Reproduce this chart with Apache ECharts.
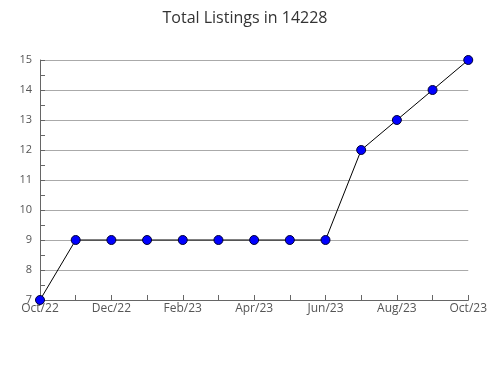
<!DOCTYPE html>
<html><head><meta charset="utf-8">
<script src="https://cdn.jsdelivr.net/npm/echarts@6/dist/echarts.min.js"></script>
<style>html,body{margin:0;padding:0;background:#fff}#c{width:490px;height:380px}</style>
</head><body><div id="c"></div>
<script>
const categories = ['Oct/22','Nov/22','Dec/22','Jan/23','Feb/23','Mar/23','Apr/23','May/23','Jun/23','Jul/23','Aug/23','Sep/23','Oct/23'];
const listings = [7, 9, 9, 9, 9, 9, 9, 9, 9, 12, 13, 14, 15];
const yMin = 7, yMax = 15;

const chart = echarts.init(document.getElementById('c'));
chart.setOption({
  animation: false,
  title: {
    text: 'Total Listings in 14228', left: 'center', top: 5,
    textStyle: { fontFamily: 'Open Sans', fontSize: 16, fontWeight: 'normal', color: '#333' }
  },
  grid: { left: 40, right: 20, top: 60, bottom: 80 },
  xAxis: {
    type: 'category', data: categories, boundaryGap: false,
    axisLine: { lineStyle: { color: '#666' } },
    axisTick: { inside: true, length: 5, lineStyle: { color: '#666' }, interval: 0 },
    axisLabel: { interval: 1, color: '#555', fontFamily: 'Open Sans', fontSize: 12, margin: 3 },
    splitLine: { show: false }
  },
  yAxis: {
    type: 'value', min: yMin, max: yMax, interval: 1,
    axisLine: { show: true, lineStyle: { color: '#666' } },
    axisTick: { show: true, inside: true, length: 5, lineStyle: { color: '#666' } },
    minorTick: { show: true, splitNumber: 2, length: 5, lineStyle: { color: '#666' } },
    axisLabel: { color: '#555', fontFamily: 'Open Sans', fontSize: 11, margin: 8 },
    splitLine: { show: true, lineStyle: { color: '#aaa', width: 1 } }
  },
  series: [{
    type: 'line', data: listings,
    symbol: 'circle', symbolSize: 9,
    lineStyle: { color: '#000', width: 1 },
    itemStyle: { color: '#0000ff', borderColor: '#000033', borderWidth: 1 }
  }]
});
</script></body></html>
